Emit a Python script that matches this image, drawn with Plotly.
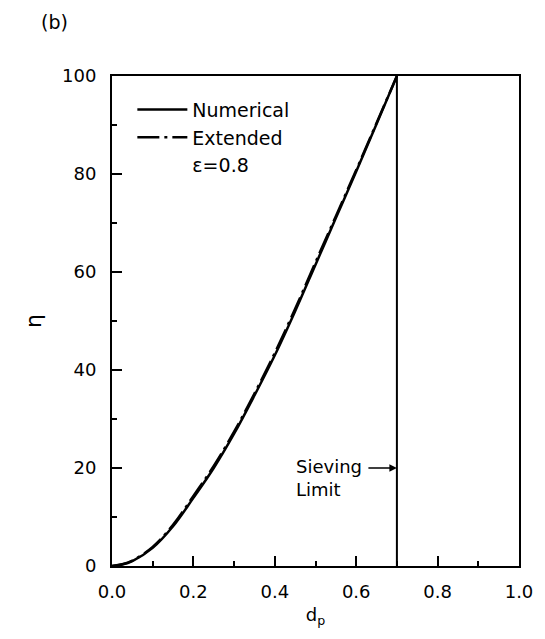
import plotly.graph_objects as go

# Data
dp_num = [0.0, 0.025, 0.05, 0.1, 0.15, 0.2, 0.25, 0.3, 0.35, 0.4, 0.45, 0.5, 0.55, 0.6, 0.65, 0.7]
eta_num = [0.0, 0.3, 1.0, 3.7, 8.1, 13.9, 20.0, 27.0, 34.8, 43.0, 52.0, 61.5, 71.0, 80.5, 90.2, 100.0]
dp_ext = [0.0, 0.025, 0.05, 0.1, 0.15, 0.2, 0.25, 0.3, 0.35, 0.4, 0.45, 0.5, 0.55, 0.6, 0.65, 0.7]
eta_ext = [0.0, 0.35, 1.1, 3.9, 8.4, 14.3, 20.4, 27.4, 35.2, 43.5, 52.5, 62.0, 71.4, 80.8, 90.4, 100.0]
sieving_dp = [0.7, 0.7]
sieving_eta = [0.0, 100.0]

x_ticks = [0.0, 0.2, 0.4, 0.6, 0.8, 1.0]
x_ticklabels = ["0.0", "0.2", "0.4", "0.6", "0.8", "1.0"]
y_ticks = [0, 20, 40, 60, 80, 100]

FONT = "DejaVu Sans"

fig = go.Figure()
fig.add_trace(go.Scatter(x=dp_num, y=eta_num, mode="lines", name="Numerical",
                         line=dict(color="black", width=2.5, shape="spline")))
fig.add_trace(go.Scatter(x=dp_ext, y=eta_ext, mode="lines", name="Extended",
                         line=dict(color="black", width=2.5, dash="22px,5px,3px,5px", shape="spline")))
fig.add_trace(go.Scatter(x=[None], y=[None], mode="lines", name="ε=0.8",
                         line=dict(color="rgba(0,0,0,0)", width=0)))
fig.add_trace(go.Scatter(x=sieving_dp, y=sieving_eta, mode="lines", showlegend=False,
                         line=dict(color="black", width=2)))

fig.add_annotation(x=0.7, y=20, xref="x", yref="y", ax=-30, ay=0, axref="pixel", ayref="pixel",
                   text="", showarrow=True, arrowhead=2, arrowsize=1, arrowwidth=1.5,
                   arrowcolor="black")
fig.add_annotation(x=0.618, y=20, xref="x", yref="y", xanchor="right", yanchor="middle",
                   text="Sieving<br>Limit", showarrow=False, align="left",
                   yshift=-10, font=dict(family=FONT, size=18, color="black"))
fig.add_annotation(x=-0.18, y=1.11, xref="paper", yref="paper", xanchor="left", yanchor="middle",
                   text="(b)", showarrow=False, font=dict(family=FONT, size=19, color="black"))

axis_common = dict(showline=True, linecolor="black", linewidth=2, mirror=True,
                   ticks="inside", ticklen=10, tickwidth=1.5, tickcolor="black",
                   showgrid=False, zeroline=False,
                   tickfont=dict(family=FONT, size=18, color="black"))

fig.update_xaxes(range=[0, 1.0], tickvals=x_ticks, ticktext=x_ticklabels,
                 ticklabelstandoff=8,
                 minor=dict(ticks="inside", ticklen=5, tickwidth=1.5, tickcolor="black", dtick=0.1),
                 title=dict(text="d<sub>p</sub>", font=dict(family=FONT, size=18, color="black"), standoff=8),
                 **axis_common)
fig.update_yaxes(range=[0, 100], tickvals=y_ticks,
                 ticklabelstandoff=10,
                 minor=dict(ticks="inside", ticklen=5, tickwidth=1.5, tickcolor="black", dtick=10),
                 title=dict(text="η", font=dict(family=FONT, size=22, color="black"), standoff=14),
                 **axis_common)

fig.update_layout(
    width=545, height=639,
    margin=dict(l=112, r=24, t=76, b=73),
    paper_bgcolor="white", plot_bgcolor="white",
    showlegend=True,
    legend=dict(x=0.05, y=0.97, xanchor="left", yanchor="top",
                bgcolor="rgba(0,0,0,0)", borderwidth=0,
                font=dict(family=FONT, size=19, color="black"),
                itemwidth=50),
)

fig.write_html("out.html")
